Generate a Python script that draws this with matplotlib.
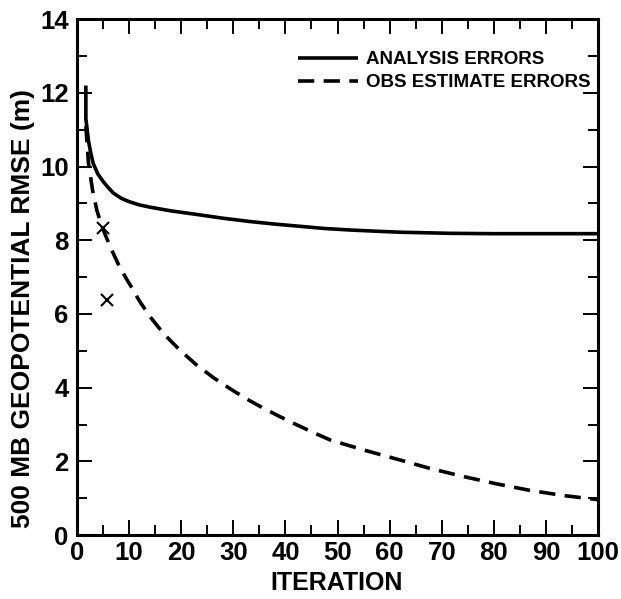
import matplotlib
matplotlib.use("Agg")
import matplotlib.pyplot as plt
from matplotlib.ticker import MultipleLocator

plt.rcParams['font.family'] = ['Liberation Sans', 'DejaVu Sans']

# Analysis errors (solid)
analysis_iter = [1.7, 1.7, 2.2, 2.6, 3.1, 4.0, 5.0, 6.0, 7.0, 8.5, 10.0, 12.0, 14.0, 18.0, 23.6, 28.0,
                 33.2, 38.0, 42.8, 47.6, 52.4, 57.0, 62.0, 71.6, 80.0, 90.0, 100.0]
analysis_rmse = [12.2, 11.3, 10.7, 10.4, 10.09, 9.8, 9.6, 9.43, 9.28, 9.14, 9.05, 8.96, 8.9, 8.8, 8.69, 8.6,
                 8.51, 8.44, 8.38, 8.32, 8.28, 8.25, 8.22, 8.19, 8.18, 8.18, 8.18]

# Obs estimate errors (dashed)
obs_iter = [1.7, 2.2, 3.0, 3.8, 4.9, 6.3, 8.0, 9.5, 10.2, 12.0, 14.0, 16.6, 19.8, 23.0, 26.2, 29.4, 32.6,
            35.8, 39.0, 42.2, 45.4, 48.6, 55.0, 61.4, 67.7, 74.1, 80.5, 87.0, 93.5, 100.0]
obs_rmse = [11.1, 10.1, 9.35, 8.82, 8.33, 7.85, 7.33, 6.95, 6.79, 6.35, 5.93, 5.47, 5.01, 4.61, 4.27, 3.97, 3.69,
            3.44, 3.21, 2.99, 2.78, 2.58, 2.31, 2.06, 1.81, 1.59, 1.39, 1.21, 1.07, 0.96]

# Isolated 'x' points
x_iter = [4.9, 5.7]
x_rmse = [8.33, 6.38]

series_labels = ["ANALYSIS ERRORS", "OBS ESTIMATE ERRORS"]

fig = plt.figure(figsize=(6.21, 5.99), dpi=100)
ax = fig.add_axes([0.124, 0.1068, 0.839, 0.861])

ax.plot(analysis_iter, analysis_rmse, color='black', lw=2.6, solid_capstyle='butt',
        solid_joinstyle='round', label=series_labels[0])
ax.plot(obs_iter, obs_rmse, color='black', lw=2.6, dashes=(4.5, 2.6),
        label=series_labels[1])
ax.plot(x_iter, x_rmse, linestyle='none', marker='x', color='black',
        markersize=8, markeredgewidth=1.5)

ax.set_xlim(0, 100)
ax.set_ylim(0, 14)
ax.xaxis.set_major_locator(MultipleLocator(10))
ax.xaxis.set_minor_locator(MultipleLocator(5))
ax.yaxis.set_major_locator(MultipleLocator(2))
ax.yaxis.set_minor_locator(MultipleLocator(1))
ax.tick_params(which='both', direction='in', top=True, right=True, width=1.4,
               labelsize=18.5, colors='black')
ax.tick_params(which='major', length=11)
ax.tick_params(which='minor', length=7)
ax.tick_params(axis='x', which='major', pad=4)
ax.tick_params(axis='y', which='major', pad=6)
for lab in ax.get_xticklabels() + ax.get_yticklabels():
    lab.set_fontweight('bold')
for s in ax.spines.values():
    s.set_linewidth(2.2)

ax.set_xlabel("ITERATION", fontsize=18, fontweight='bold')
ax.set_ylabel("500 MB GEOPOTENTIAL RMSE (m)", fontsize=19, fontweight='bold')
ax.xaxis.set_label_coords(0.499, -0.07)
ax.yaxis.set_label_coords(-0.081, 0.44)

leg = ax.legend(loc='upper left', bbox_to_anchor=(0.424, 0.938), frameon=False,
                borderpad=0, borderaxespad=0, handlelength=3.2, handletextpad=0.45,
                labelspacing=0.3, prop={'size': 13.5, 'weight': 'bold'})

fig.savefig("out.png", dpi=100)
